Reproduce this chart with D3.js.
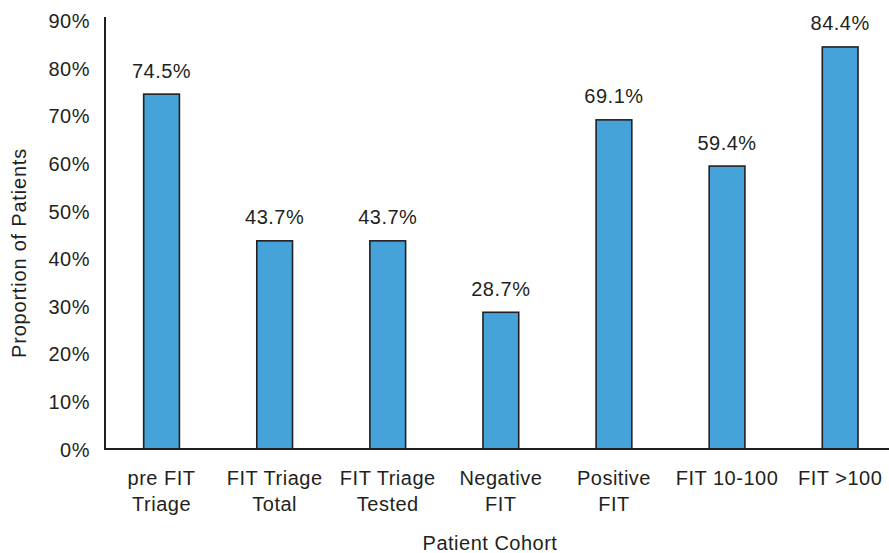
<!DOCTYPE html>
<html><head><meta charset="utf-8">
<script src="https://cdn.jsdelivr.net/npm/d3@7"></script>
<style>body{margin:0;background:#fff}svg{display:block}text{font-family:"Liberation Sans",Arial,sans-serif;fill:#231f20;letter-spacing:0.5px}</style>
</head><body><svg id="c" width="889" height="553"></svg>
<script>
const categories = [["pre FIT","Triage"],["FIT Triage","Total"],["FIT Triage","Tested"],["Negative","FIT"],["Positive","FIT"],["FIT 10-100"],["FIT >100"]];
const values = [74.5, 43.7, 43.7, 28.7, 69.1, 59.4, 84.4];
const yTicks = [0,10,20,30,40,50,60,70,80,90];
const yTitle = "Proportion of Patients";
const xTitle = "Patient Cohort";

const FS = 20;
const svg = d3.select("#c");
const x0 = 105, y0 = 449, yTop = 20.3;
const idx = values.map((d,i)=>i);
const x = d3.scaleBand().domain(idx).range([x0, x0 + 7*113.1]).paddingInner(0.684).paddingOuter(0.342);
const y = d3.scaleLinear().domain([0,90]).range([y0, yTop]);

// bars
svg.selectAll("rect.bar").data(values).join("rect").attr("class","bar")
  .attr("x",(d,i)=>x(i)).attr("width",x.bandwidth())
  .attr("y",d=>y(d)).attr("height",d=>y0-y(d))
  .attr("fill","#45a3d9").attr("stroke","#231f20").attr("stroke-width",1.6);

// value labels
svg.selectAll("text.val").data(values).join("text").attr("class","val")
  .attr("x",(d,i)=>x(i)+x.bandwidth()/2).attr("y",d=>y(d)-16.5)
  .attr("text-anchor","middle").attr("font-size",FS).text(d=>d.toFixed(1)+"%");

// y axis
const yAxis = d3.axisLeft(y).tickValues(yTicks).tickSize(0).tickPadding(15).tickFormat(d=>d+"%");
const gy = svg.append("g").attr("transform",`translate(${x0},0)`).call(yAxis);
gy.select(".domain").remove();
gy.selectAll("text").attr("font-size",FS).attr("dy","0.36em").style("font-family","Liberation Sans, Arial, sans-serif").attr("fill","#231f20");
svg.append("line").attr("x1",x0).attr("x2",x0).attr("y1",17).attr("y2",y0+1).attr("stroke","#231f20").attr("stroke-width",2);
svg.append("line").attr("x1",x0-1).attr("x2",889).attr("y1",y0).attr("y2",y0).attr("stroke","#231f20").attr("stroke-width",2);

// x category labels
const gx = svg.selectAll("g.cat").data(categories).join("g").attr("class","cat")
  .attr("transform",(d,i)=>`translate(${x(i)+x.bandwidth()/2},0)`);
gx.selectAll("text").data(d=>d).join("text")
  .attr("x",0).attr("y",(d,j)=>485+j*26).attr("text-anchor","middle").attr("font-size",FS).text(d=>d);

// titles
svg.append("text").attr("x",490).attr("y",550).attr("text-anchor","middle").attr("font-size",FS).text(xTitle);
svg.append("text").attr("transform","translate(26,253) rotate(-90)").attr("text-anchor","middle").attr("font-size",FS).style("letter-spacing","0.8px").text(yTitle);
</script></body></html>
